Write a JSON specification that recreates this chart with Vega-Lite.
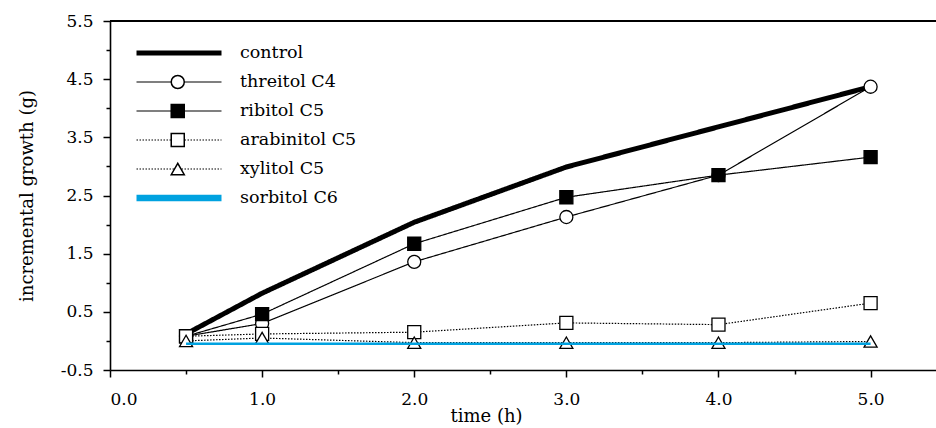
{
  "$schema": "https://vega.github.io/schema/vega-lite/v6.json",
  "width": 826,
  "height": 349,
  "autosize": {"type": "none"},
  "padding": {"left": 110, "top": 21, "right": 0, "bottom": 58},
  "background": "white",
  "config": {
    "view": {"stroke": null},
    "font": "DejaVu Serif",
    "axis": {
      "labelFont": "DejaVu Serif", "labelFontSize": 17, "labelColor": "black",
      "titleFont": "DejaVu Serif", "titleFontSize": 18, "titleFontWeight": "normal", "titleColor": "black",
      "domainColor": "black", "domainWidth": 1.6, "tickColor": "black", "tickWidth": 1.5, "grid": false
    },
    "legend": {"labelFont": "DejaVu Serif", "labelFontSize": 17.5, "labelColor": "black"}
  },
  "data": {
    "values": [
      {"series": "control", "time": 0.5, "value": 0.12},
      {"series": "control", "time": 1, "value": 0.82},
      {"series": "control", "time": 2, "value": 2.04},
      {"series": "control", "time": 3, "value": 2.99},
      {"series": "control", "time": 4, "value": 3.68},
      {"series": "control", "time": 5, "value": 4.37},
      {"series": "threitol C4", "time": 0.5, "value": 0.08},
      {"series": "threitol C4", "time": 1, "value": 0.3},
      {"series": "threitol C4", "time": 2, "value": 1.36},
      {"series": "threitol C4", "time": 3, "value": 2.13},
      {"series": "threitol C4", "time": 4, "value": 2.85},
      {"series": "threitol C4", "time": 5, "value": 4.37},
      {"series": "ribitol C5", "time": 0.5, "value": 0.08},
      {"series": "ribitol C5", "time": 1, "value": 0.46},
      {"series": "ribitol C5", "time": 2, "value": 1.67},
      {"series": "ribitol C5", "time": 3, "value": 2.47},
      {"series": "ribitol C5", "time": 4, "value": 2.85},
      {"series": "ribitol C5", "time": 5, "value": 3.16},
      {"series": "arabinitol C5", "time": 0.5, "value": 0.08},
      {"series": "arabinitol C5", "time": 1, "value": 0.12},
      {"series": "arabinitol C5", "time": 2, "value": 0.15},
      {"series": "arabinitol C5", "time": 3, "value": 0.31},
      {"series": "arabinitol C5", "time": 4, "value": 0.28},
      {"series": "arabinitol C5", "time": 5, "value": 0.65},
      {"series": "xylitol C5", "time": 0.5, "value": 0.0},
      {"series": "xylitol C5", "time": 1, "value": 0.05},
      {"series": "xylitol C5", "time": 2, "value": -0.03},
      {"series": "xylitol C5", "time": 3, "value": -0.03},
      {"series": "xylitol C5", "time": 4, "value": -0.03},
      {"series": "xylitol C5", "time": 5, "value": -0.01},
      {"series": "sorbitol C6", "time": 0.5, "value": -0.05},
      {"series": "sorbitol C6", "time": 1, "value": -0.05},
      {"series": "sorbitol C6", "time": 2, "value": -0.05},
      {"series": "sorbitol C6", "time": 3, "value": -0.05},
      {"series": "sorbitol C6", "time": 4, "value": -0.05},
      {"series": "sorbitol C6", "time": 5, "value": -0.05}
    ]
  },
  "layer": [
    {
      "mark": {"type": "rule", "color": "black", "strokeWidth": 1.8},
      "encoding": {
        "y": {"datum": 5.5, "type": "quantitative", "axis": null}
      }
    },
    {
      "transform": [{"filter": "datum.series !== 'sorbitol C6'"}],
      "mark": {"type": "line", "strokeCap": "butt"},
      "encoding": {
        "x": {
          "field": "time", "type": "quantitative",
          "scale": {"domain": [0, 5.43], "nice": false, "zero": false},
          "axis": {"orient": "bottom", "values": [0, 1, 2, 3, 4, 5], "format": ".1f", "tickSize": 7, "labelPadding": 14,
                   "title": "time (h)", "titleX": 376, "titleY": 46, "titleBaseline": "middle", "titleAnchor": null}
        },
        "y": {
          "field": "value", "type": "quantitative",
          "scale": {"domain": [-0.5, 5.5], "nice": false, "zero": false},
          "axis": {"orient": "left", "values": [-0.5, 0.5, 1.5, 2.5, 3.5, 4.5, 5.5], "format": ".1f",
                   "labelExpr": "replace(datum.label, '\u2212', '-')", "tickSize": 7, "labelPadding": 10,
                   "title": "incremental growth (g)", "titleX": -83, "titleY": 174.5, "titleBaseline": "middle", "titleAngle": 270, "titleAnchor": null}
        },
        "color": {
          "field": "series", "type": "nominal",
          "scale": {"domain": ["control", "threitol C4", "ribitol C5", "arabinitol C5", "xylitol C5", "sorbitol C6"],
                    "range": ["black", "black", "black", "black", "black", "#00a2e0"]},
          "legend": {"orient": "none", "legendX": 23, "legendY": 17.5, "title": null, "symbolType": "stroke", "symbolSize": 7225,
                     "clipHeight": 29, "rowPadding": 0, "padding": 0, "labelOffset": 15, "labelLimit": 300}
        },
        "strokeDash": {
          "field": "series", "type": "nominal",
          "scale": {"domain": ["control", "threitol C4", "ribitol C5", "arabinitol C5", "xylitol C5", "sorbitol C6"],
                    "range": [[1, 0], [1, 0], [1, 0], [1.5, 1.5], [1.5, 1.5], [1, 0]]},
          "legend": {"orient": "none", "legendX": 23, "legendY": 17.5, "title": null, "symbolType": "stroke", "symbolSize": 7225,
                     "clipHeight": 29, "rowPadding": 0, "padding": 0, "labelOffset": 15, "labelLimit": 300}
        },
        "strokeWidth": {
          "field": "series", "type": "nominal",
          "scale": {"type": "ordinal", "domain": ["control", "threitol C4", "ribitol C5", "arabinitol C5", "xylitol C5", "sorbitol C6"],
                    "range": [5, 1.2, 1.2, 1.2, 1.2, 6.5]},
          "legend": {"orient": "none", "legendX": 23, "legendY": 17.5, "title": null, "symbolType": "stroke", "symbolSize": 7225,
                     "clipHeight": 29, "rowPadding": 0, "padding": 0, "labelOffset": 15, "labelLimit": 300}
        }
      }
    },
    {
      "transform": [{"filter": {"field": "series", "oneOf": ["threitol C4", "ribitol C5", "arabinitol C5", "xylitol C5"]}}],
      "mark": {"type": "point", "filled": true, "stroke": "black", "strokeWidth": 1.3, "size": 170, "opacity": 1},
      "encoding": {
        "x": {
          "field": "time", "type": "quantitative",
          "axis": {"orient": "bottom", "values": [0.5, 1.5, 2.5, 3.5, 4.5], "labels": false, "domain": false, "tickSize": 4, "title": null}
        },
        "y": {
          "field": "value", "type": "quantitative",
          "axis": {"orient": "left", "values": [0, 1, 2, 3, 4, 5], "labels": false, "domain": false, "tickSize": 4, "title": null}
        },
        "shape": {
          "field": "series", "type": "nominal",
          "scale": {"domain": ["control", "threitol C4", "ribitol C5", "arabinitol C5", "xylitol C5", "sorbitol C6"],
                    "range": ["M0,0", "circle", "square", "square", "triangle-up", "M0,0"]},
          "legend": {"orient": "none", "legendX": 59, "legendY": 17.5, "title": null, "symbolSize": 170,
                     "clipHeight": 29, "rowPadding": 0, "padding": 0, "labelExpr": "''",
                     "encode": {"symbols": {"update": {"stroke": {"value": "black"}, "strokeWidth": {"value": 1.3}, "opacity": {"value": 1}}}}}
        },
        "fill": {
          "field": "series", "type": "nominal",
          "scale": {"domain": ["control", "threitol C4", "ribitol C5", "arabinitol C5", "xylitol C5", "sorbitol C6"],
                    "range": ["white", "white", "black", "white", "white", "white"]},
          "legend": {"orient": "none", "legendX": 59, "legendY": 17.5, "title": null, "symbolSize": 170,
                     "clipHeight": 29, "rowPadding": 0, "padding": 0, "labelExpr": "''",
                     "encode": {"symbols": {"update": {"stroke": {"value": "black"}, "strokeWidth": {"value": 1.3}, "opacity": {"value": 1}}}}}
        }
      }
    },
    {
      "transform": [{"filter": "datum.series === 'sorbitol C6'"}],
      "mark": {"type": "line", "strokeCap": "butt"},
      "encoding": {
        "x": {"field": "time", "type": "quantitative", "axis": null},
        "y": {"field": "value", "type": "quantitative", "axis": null},
        "color": {"field": "series", "type": "nominal", "legend": null},
        "strokeDash": {"field": "series", "type": "nominal", "legend": null},
        "strokeWidth": {"field": "series", "type": "nominal", "legend": null}
      }
    }
  ],
  "resolve": {
    "axis": {"x": "independent", "y": "independent"},
    "legend": {"color": "independent", "strokeDash": "independent", "strokeWidth": "independent", "shape": "independent", "fill": "independent"}
  }
}
